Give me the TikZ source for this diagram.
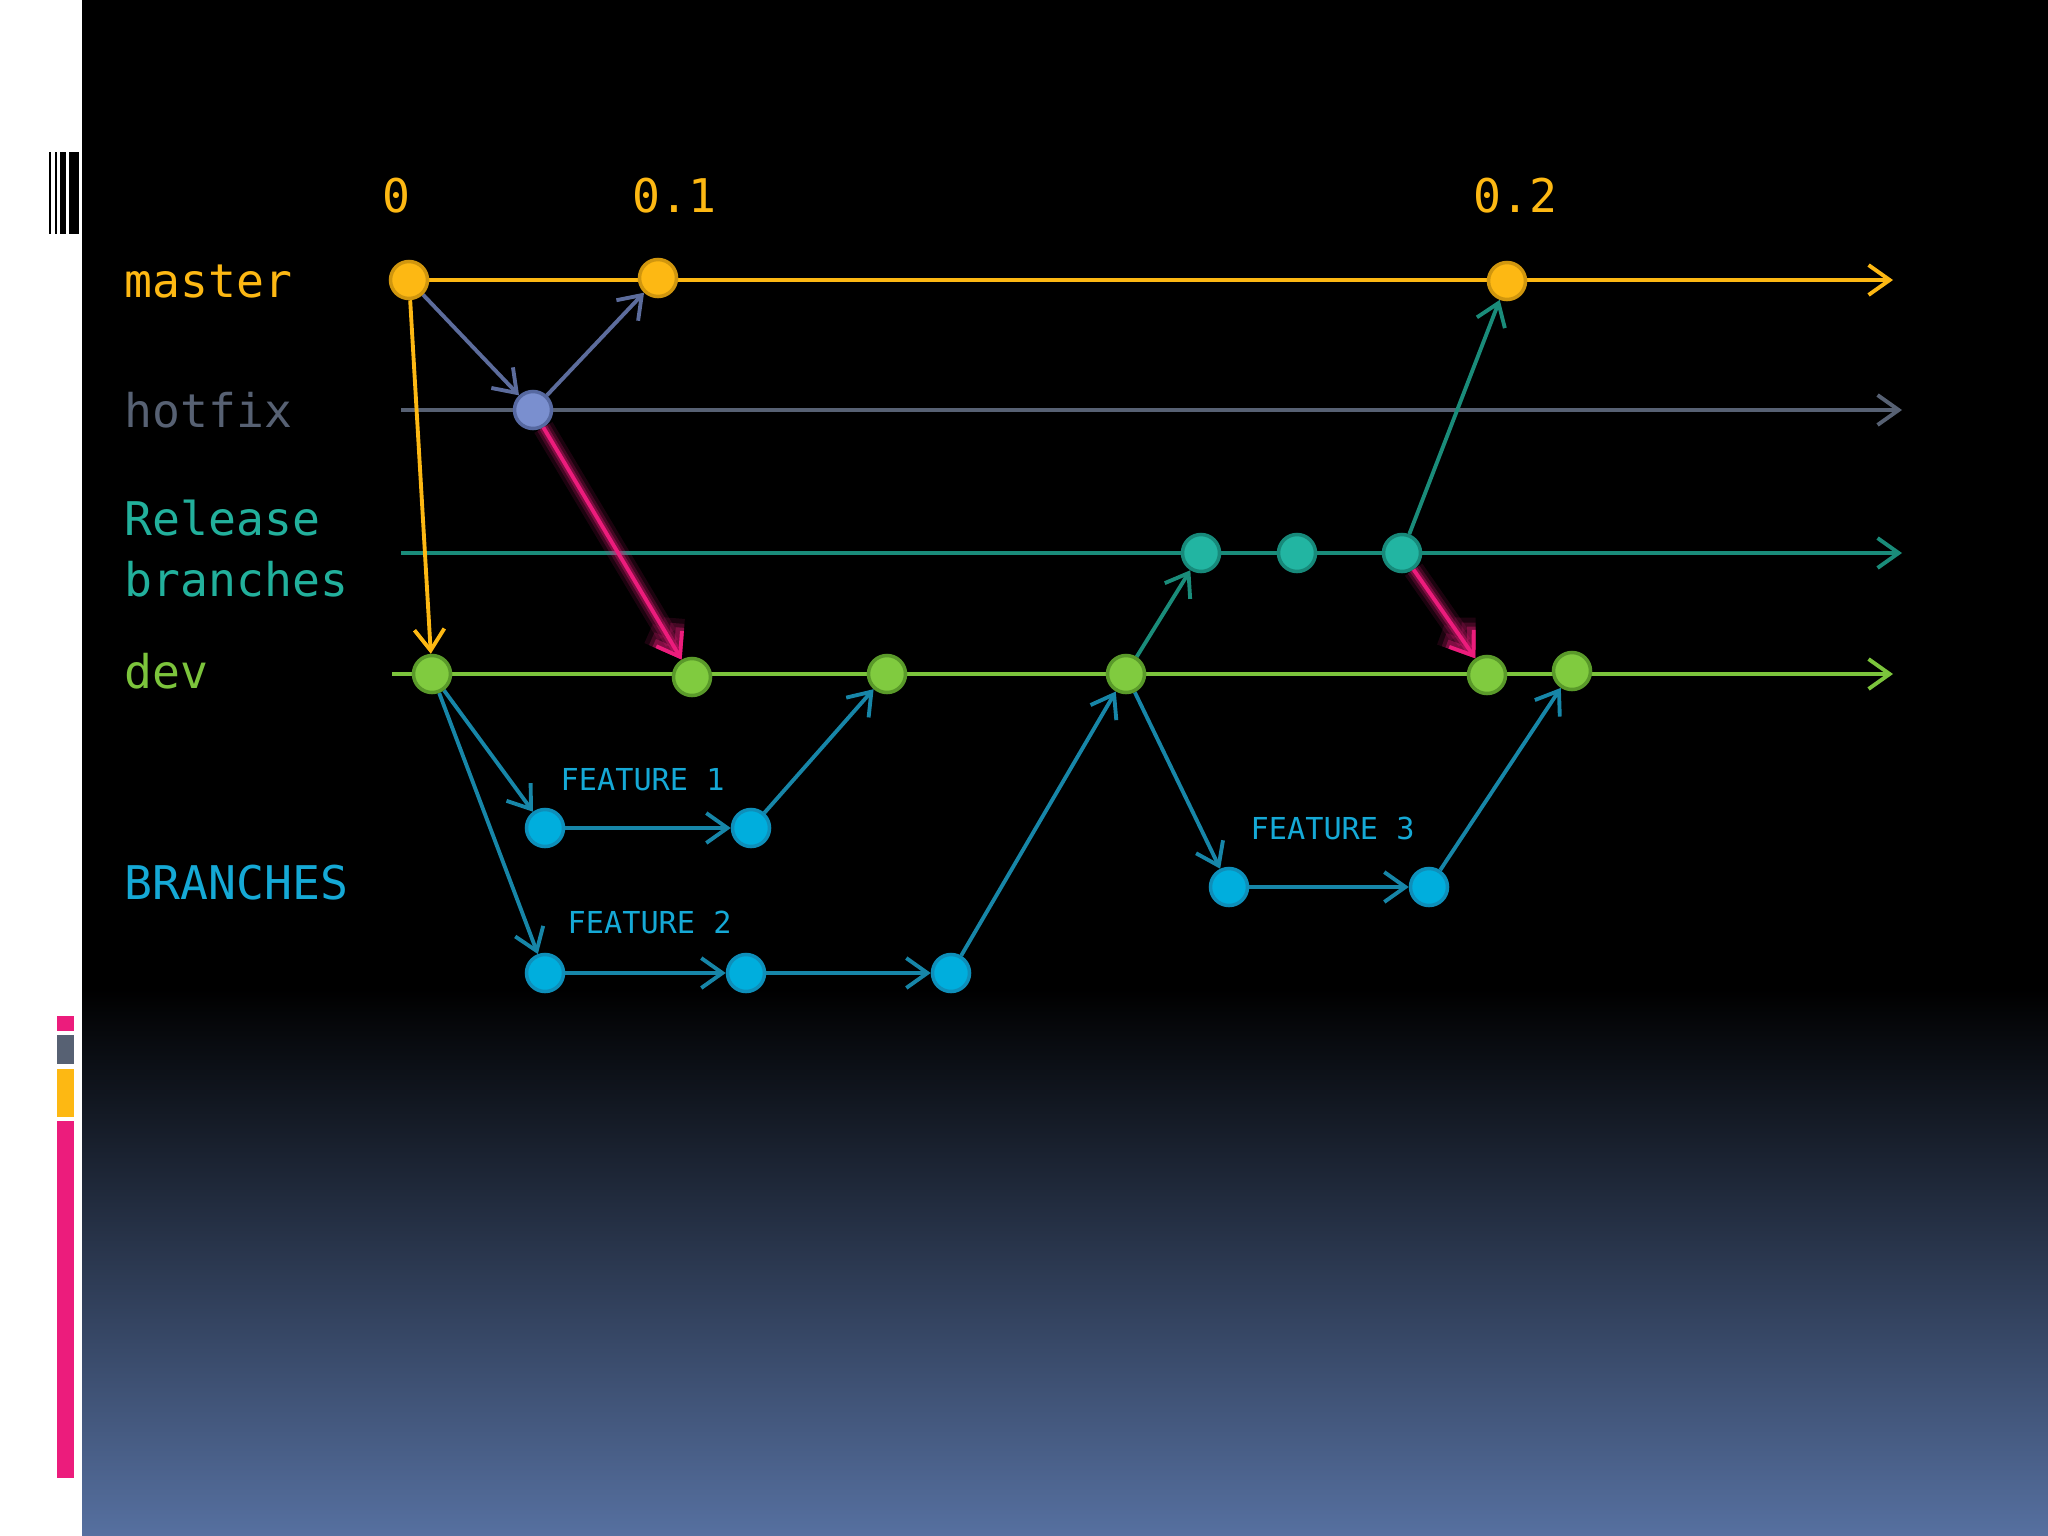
\documentclass[tikz,border=0pt]{standalone}
\usepackage{fontspec}
\newfontfamily\monof{DejaVu Sans Mono}
\usetikzlibrary{arrows.meta}
\pgfdeclarelayer{back}
\pgfdeclarelayer{lines}
\pgfsetlayers{back,lines,main}
\definecolor{cMaster}{HTML}{FDB813}
\definecolor{cMasterD}{HTML}{D0960E}
\definecolor{cHot}{HTML}{576173}
\definecolor{cHotFill}{HTML}{7A8FCF}
\definecolor{cHotD}{HTML}{5668A0}
\definecolor{cHotArr}{HTML}{5C6C9C}
\definecolor{cRel}{HTML}{22B09C}
\definecolor{cRelLine}{HTML}{1A8C7A}
\definecolor{cRelFill}{HTML}{22B5A2}
\definecolor{cRelD}{HTML}{17897A}
\definecolor{cDev}{HTML}{7CC43C}
\definecolor{cDevFill}{HTML}{80CB3F}
\definecolor{cDevD}{HTML}{5A9A2A}
\definecolor{cFeat}{HTML}{00AEDD}
\definecolor{cFeatD}{HTML}{0E8FBA}
\definecolor{cFeatArr}{HTML}{1786A8}
\definecolor{cFeatTxt}{HTML}{15A9D6}
\definecolor{cPink}{HTML}{EC1C7C}
\definecolor{cBlue}{HTML}{5670A0}
\tikzset{
  commit/.style={circle, inner sep=0pt, minimum size=0.37cm, line width=1pt},
  mc/.style={commit, fill=cMaster, draw=cMasterD},
  hc/.style={commit, fill=cHotFill, draw=cHotD},
  rc/.style={commit, fill=cRelFill, draw=cRelD},
  dc/.style={commit, fill=cDevFill, draw=cDevD},
  fc/.style={commit, fill=cFeat, draw=cFeatD},
  lbl/.style={font=\monof\fontsize{13.2pt}{15pt}\selectfont, inner sep=0pt, anchor=base west},
  flbl/.style={font=\monof\fontsize{8.6pt}{10pt}\selectfont, inner sep=0pt, anchor=base west, text=cFeatTxt},
  conn/.style={line width=1.1pt, -{Straight Barb[length=6pt,width=8.5pt]}},
  glowA/.style={conn, draw=cPink, line width=6pt, opacity=0.12},
  glowB/.style={conn, draw=cPink, line width=4pt, opacity=0.2},
  glowC/.style={conn, draw=cPink, line width=2.4pt, opacity=0.35},
}
\begin{document}
\begin{tikzpicture}[x=0.01cm, y=-0.01cm]
\useasboundingbox (0,0) rectangle (2048,1536);
\begin{pgfonlayer}{back}
  \fill[white] (0,0) rectangle (2048,1536);
  \fill[black] (82,0) rectangle (2048,990);
  \shade[top color=black, bottom color=cBlue] (82,989) rectangle (2048,1536);
  % barcode
  \fill[black] (49,152) rectangle (51,234);
  \fill[black] (55,152) rectangle (57,234);
  \fill[black] (60,152) rectangle (66,234);
  \fill[black] (69,152) rectangle (79,234);
  % side bars
  \fill[cPink] (57,1016) rectangle (74,1031);
  \fill[cHot] (57,1035) rectangle (74,1064);
  \fill[cMaster] (57,1069) rectangle (74,1117);
  \fill[cPink] (57,1121) rectangle (74,1478);
\end{pgfonlayer}

% labels
\node[lbl, text=cMaster] (t0) at (382,212) {0};
\node[lbl, text=cMaster] (t01) at (632,212) {0.1};
\node[lbl, text=cMaster] (t02) at (1473,212) {0.2};
\node[lbl, text=cMaster] (tMaster) at (124,297) {master};
\node[lbl, text=cHot] (tHot) at (124,427) {hotfix};
\node[lbl, text=cRel] (tRel1) at (124,535) {Release};
\node[lbl, text=cRel] (tRel2) at (124,596) {branches};
\node[lbl, text=cDev] (tDev) at (124,688) {dev};
\node[lbl, text=cFeatTxt] (tBr) at (124,899) {BRANCHES};
\node[flbl] (tF1) at (560,790) {FEATURE 1};
\node[flbl] (tF2) at (567,933) {FEATURE 2};
\node[flbl] (tF3) at (1250,839) {FEATURE 3};

% commits
\node[mc] (M0) at (409,280) {};
\node[mc] (M1) at (658,278) {};
\node[mc] (M2) at (1507,281) {};
\node[hc] (H) at (533,410) {};
\node[rc] (R1) at (1201,553) {};
\node[rc] (R2) at (1297,553) {};
\node[rc] (R3) at (1402,553) {};
\node[dc] (D0) at (432,674) {};
\node[dc] (D1) at (692,677) {};
\node[dc] (D2) at (887,674) {};
\node[dc] (D3) at (1126,674) {};
\node[dc] (D4) at (1487,675) {};
\node[dc] (D5) at (1572,671) {};
\node[fc] (F1a) at (545,828) {};
\node[fc] (F1b) at (751,828) {};
\node[fc] (F2a) at (545,973) {};
\node[fc] (F2b) at (746,973) {};
\node[fc] (F2c) at (951,973) {};
\node[fc] (F3a) at (1229,887) {};
\node[fc] (F3b) at (1429,887) {};

\coordinate (mE) at (1893,280);
\coordinate (hS) at (401,410);
\coordinate (hE) at (1902,410);
\coordinate (rS) at (401,553);
\coordinate (rE) at (1902,553);
\coordinate (dS) at (392,674);
\coordinate (dE) at (1893,674);

\begin{pgfonlayer}{lines}
  % branch lines
  \draw[conn, draw=cMaster] (M0) -- (mE);
  \draw[conn, draw=cHot] (hS) -- (hE);
  \draw[conn, draw=cRelLine] (rS) -- (rE);
  \draw[conn, draw=cDev] (dS) -- (dE);
  % master / hotfix
  \draw[conn, draw=cMaster] (M0) -- (D0);
  \draw[conn, draw=cHotArr] (M0) -- (H);
  \draw[conn, draw=cHotArr] (H) -- (M1);
  % releases
  \draw[conn, draw=cRelLine] (D3) -- (R1);
  \draw[conn, draw=cRelLine] (R3) -- (M2);
  % features
  \draw[conn, draw=cFeatArr] (D0) -- (F1a);
  \draw[conn, draw=cFeatArr] (F1a) -- (F1b);
  \draw[conn, draw=cFeatArr] (F1b) -- (D2);
  \draw[conn, draw=cFeatArr] (D0) -- (F2a);
  \draw[conn, draw=cFeatArr] (F2a) -- (F2b);
  \draw[conn, draw=cFeatArr] (F2b) -- (F2c);
  \draw[conn, draw=cFeatArr] (F2c) -- (D3);
  \draw[conn, draw=cFeatArr] (D3) -- (F3a);
  \draw[conn, draw=cFeatArr] (F3a) -- (F3b);
  \draw[conn, draw=cFeatArr] (F3b) -- (D5);
\end{pgfonlayer}
% pink merges with glow
\draw[glowA] (H) -- (D1);
\draw[glowB] (H) -- (D1);
\draw[glowC] (H) -- (D1);
\draw[conn, draw=cPink] (H) -- (D1);
\draw[glowA] (R3) -- (D4);
\draw[glowB] (R3) -- (D4);
\draw[glowC] (R3) -- (D4);
\draw[conn, draw=cPink] (R3) -- (D4);
\end{tikzpicture}
\end{document}
